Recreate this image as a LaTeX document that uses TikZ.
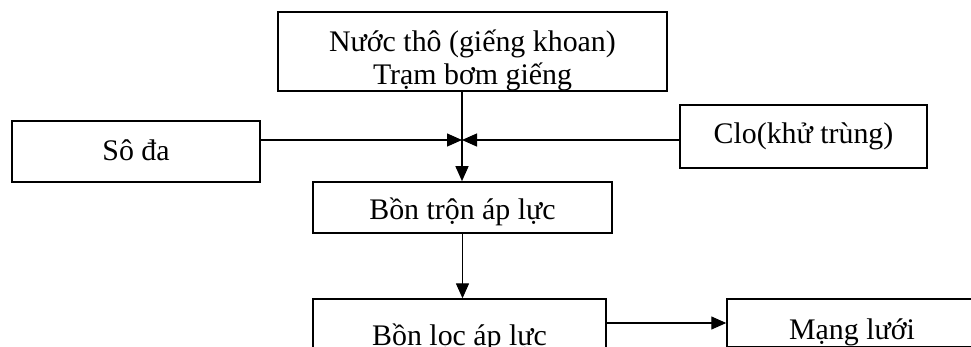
\documentclass[tikz,border=0pt]{standalone}
\usepackage{fontspec}
\setmainfont{Liberation Serif}
\usetikzlibrary{arrows.meta}

\begin{document}
\begin{tikzpicture}[>={Triangle[length=0.3cm,width=0.26cm]}]
  \tikzstyle{box}=[draw,line width=0.85pt,align=center,inner sep=0pt,font=\fontsize{17pt}{18.8pt}\selectfont]
  \tikzstyle{flow}=[line width=0.75pt,->]
  \useasboundingbox (0,0) rectangle (19.42,-6.92);
  \clip (0,0) rectangle (19.42,-6.92);
  % water source, text cut off at the lower edge of the box
  \begin{scope}
    \clip (5.3,0) rectangle (13.6,-1.835);
    \node[box,minimum width=7.78cm,text height=41.5pt,text depth=3.4pt] (src) at (9.45,-1.03) {Nước thô (giếng khoan)\\Trạm bơm giếng};
  \end{scope}
  \node[box,minimum width=4.96cm,text height=22.2pt,text depth=12.5pt] (soda) at (2.72,-3.03) {Sô đa};
  \node[box,minimum width=4.94cm,text height=21.6pt,text depth=14.2pt] (clo) at (16.07,-2.73) {Clo(khử trùng)};
  \node[box,minimum width=5.98cm,text height=21.1pt,text depth=8pt] (mix) at (9.25,-4.15) {Bồn trộn áp lực};
  \node[box,minimum width=5.86cm,text height=26.7pt,text depth=8.5pt] (filt) at (9.19,-6.60) {Bồn lọc áp lực};
  \node[box,minimum width=5.0cm,text height=22.8pt,text depth=4.6pt] (net) at (17.04,-6.46) {Mạng lưới};
  \coordinate (jn) at (9.24,-2.80);
  % connectors
  \draw[flow] (src.south -| jn) -- (mix.north -| jn);
  \draw[flow] (soda.east |- jn) -- (jn);
  \draw[flow] (clo.west |- jn) -- (jn);
  \draw[flow] (mix.south) -- (mix.south |- filt.north);
  \draw[flow] (filt.east |- net.west) -- (net.west);
\end{tikzpicture}
\end{document}
